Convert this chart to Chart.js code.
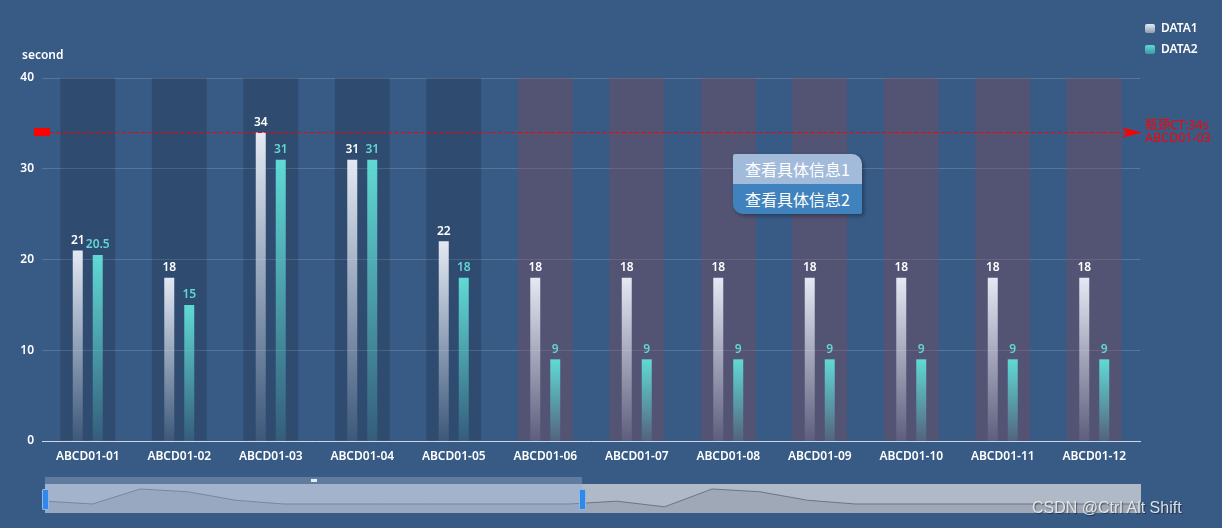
<!DOCTYPE html>
<html><head><meta charset="utf-8">
<script src="https://cdn.jsdelivr.net/npm/chart.js@4.4.0/dist/chart.umd.min.js"></script>
<style>
html,body{margin:0;padding:0;background:#385b86;}
#wrap{position:relative;width:1222px;height:528px;overflow:hidden;background:#385b86;font-family:'Noto Sans','Noto Sans CJK SC',sans-serif;}
#bg,#main{position:absolute;left:0;top:0;}
.abs{position:absolute;}
#ytitle{left:22px;top:46px;color:#fff;font-size:12px;font-weight:600;}
.leg{position:absolute;left:1145px;color:#fff;font-size:12px;line-height:14px;font-weight:600;}
.leg i{display:inline-block;width:10px;height:9px;border-radius:2px;vertical-align:-1px;margin-right:6px;}
#tip{left:733px;top:154px;width:129px;height:60px;border-radius:2px 10px 2px 10px;overflow:hidden;box-shadow:2px 2px 4px rgba(0,0,0,0.35);font-family:'Noto Sans CJK SC',sans-serif;}
#tip div{height:30px;line-height:30px;color:#fff;font-size:16px;padding-left:12px;}
#miniBox{left:45px;top:484px;width:1096px;height:29px;background:#b0b9c6;}
#mini{position:absolute;left:0;top:0;}
#sel{left:45px;top:484px;width:537px;height:29px;background:rgba(140,170,215,0.35);}
#selTop{left:45px;top:477px;width:537px;height:7px;background:#5f7b9d;}
.handle{top:489px;width:5px;height:19px;background:#2f88ea;border:1px solid #8fb7ea;border-radius:1px;}
#grip{left:311px;top:479px;width:6px;height:3px;background:#e8eef5;}
#wm{left:1032px;top:499px;color:rgba(235,238,242,0.9);font-family:'Liberation Sans',Arial,sans-serif;font-size:16px;text-shadow:1px 1px 1px rgba(0,0,0,0.45);}
</style></head><body>
<div id="wrap">
<canvas id="bg" width="1222" height="528"></canvas>
<canvas id="main" width="1222" height="528"></canvas>
<div id="ytitle" class="abs">second</div>
<div class="leg" style="top:21px"><i style="background:linear-gradient(#e6ebf3,#8d9cb3)"></i>DATA1</div>
<div class="leg" style="top:42px"><i style="background:linear-gradient(#62d8d3,#3a9aa5)"></i>DATA2</div>
<div id="tip" class="abs"><div style="background:#a2bbdb">查看具体信息1</div><div style="background:#3f82be">查看具体信息2</div></div>
<div id="miniBox" class="abs"><canvas id="mini" width="1096" height="29"></canvas></div>
<div id="selTop" class="abs"></div>
<div id="grip" class="abs"></div>
<div id="sel" class="abs"></div>
<div class="abs handle" style="left:42px"></div>
<div class="abs handle" style="left:579px"></div>
<div id="wm" class="abs">CSDN @Ctrl Alt Shift</div>
</div>
<script>
const categories = ['ABCD01-01','ABCD01-02','ABCD01-03','ABCD01-04','ABCD01-05','ABCD01-06','ABCD01-07','ABCD01-08','ABCD01-09','ABCD01-10','ABCD01-11','ABCD01-12'];
const data1 = [21,18,34,31,22,18,18,18,18,18,18,18];
const data2 = [20.5,15,31,31,18,9,9,9,9,9,9,9];
const bandValues = [40,40,40,40,40,40,40,40,40,40,40,40];
const bandKinds = ['a','a','a','a','a','b','b','b','b','b','b','b'];
const yTicks = [0,10,20,30,40];
const markValue = 34;
const markLabel = ['瓶颈CT:34s','ABCD01-03'];
const zoomShadow = [21,18,34,31,22,18,18,18,18,18,18,18,21,15,34,31,22,18,18,18,18,18,18,18];

const FONT = "'Noto Sans','Noto Sans CJK SC',sans-serif";
Chart.defaults.font.family = FONT;

function grad(top, bottom){
  return (ctx)=>{
    const chart = ctx.chart;
    if(!chart.chartArea || ctx.type!=='data') return top;
    const y = chart.scales.y;
    const y0 = y.getPixelForValue(ctx.raw), y1 = y.getPixelForValue(0);
    const g = chart.ctx.createLinearGradient(0,y0,0,y1);
    g.addColorStop(0,top); g.addColorStop(1,bottom);
    return g;
  };
}
const bandColor = {a:'rgba(0,0,0,0.16)', b:'rgba(140,68,80,0.33)'};

function scaleOpts(visible){
  return {
    x:{type:'category', offset:true, grid:{display:false, drawTicks:false},
       border:{display:visible,color:'#cfd6e0',width:1},
       ticks:{color:visible?'#ffffff':'rgba(0,0,0,0)', font:{size:12, weight:'600'}, padding:8, maxRotation:0, autoSkip:false},
       afterFit(s){s.height=30;}},
    y:{min:0, max:40, afterBuildTicks(s){s.ticks = yTicks.map(v=>({value:v}));},
       ticks:{color:visible?'#ffffff':'rgba(0,0,0,0)', padding:8, font:{size:12, weight:'600'}},
       grid:{display:visible, color:'rgba(255,255,255,0.16)', drawTicks:false}, border:{display:false},
       afterFit(s){s.width=42;}}
  };
}
const common = {
  responsive:false, animation:false, events:[],
  layout:{padding:{left:0,right:82,top:78,bottom:57}},
  plugins:{legend:{display:false}, tooltip:{enabled:false}}
};

const labelPlugin = {
  id:'barLabels',
  afterDatasetsDraw(chart){
    const c = chart.ctx;
    const cols = ['#ffffff','#62d6d2'];
    [0,1].forEach(di=>{
      const meta = chart.getDatasetMeta(di);
      const ds = chart.data.datasets[di];
      c.save();
      c.font = '600 12px '+FONT;
      c.fillStyle = cols[di];
      c.textAlign='center'; c.textBaseline='bottom';
      meta.data.forEach((el,i)=>{ c.fillText(String(ds.data[i]), el.x, el.y-4); });
      c.restore();
    });
  }
};
const markPlugin = {
  id:'markLine',
  afterDatasetsDraw(chart){
    const c = chart.ctx, area = chart.chartArea;
    const y = Math.round(chart.scales.y.getPixelForValue(markValue))+0.5;
    c.save();
    c.fillStyle='#ff0000'; c.strokeStyle='#ff0000';
    c.fillRect(34, y-4.5, 16, 8);
    c.lineWidth=1.2; c.setLineDash([4,2.5]);
    c.beginPath(); c.moveTo(50,y); c.lineTo(area.right-14,y); c.stroke();
    c.setLineDash([]);
    const tip = area.right+2;
    c.beginPath(); c.moveTo(tip,y); c.lineTo(tip-20,y-5); c.lineTo(tip-15,y); c.lineTo(tip-20,y+5); c.closePath(); c.fill();
    c.font='12.5px '+FONT; c.textAlign='left'; c.textBaseline='middle';
    c.fillText(markLabel[0], tip+3, y-7);
    c.fillText(markLabel[1], tip+3, y+5.5);
    c.restore();
  }
};

// background layer: axes, grid and category bands
new Chart(document.getElementById('bg'), {
  type:'bar',
  data:{labels:categories, datasets:[
    {label:'band', data:bandValues, backgroundColor:bandKinds.map(k=>bandColor[k]), barPercentage:0.6, categoryPercentage:1}
  ]},
  options:Object.assign({}, common, {scales:scaleOpts(true)})
});

// foreground layer: data bars, labels, mark line
new Chart(document.getElementById('main'), {
  type:'bar',
  data:{
    labels:categories,
    datasets:[
      {label:'DATA1', data:data1, backgroundColor:grad('rgba(228,233,243,1)','rgba(228,233,243,0.08)'), categoryPercentage:0.437, barPercentage:0.5},
      {label:'DATA2', data:data2, backgroundColor:grad('rgba(96,218,212,1)','rgba(96,218,212,0.12)'), categoryPercentage:0.437, barPercentage:0.5}
    ]
  },
  options:Object.assign({}, common, {scales:scaleOpts(false)}),
  plugins:[labelPlugin, markPlugin]
});

new Chart(document.getElementById('mini'), {
  type:'line',
  data:{labels:zoomShadow.map((_,i)=>String(i)), datasets:[{data:zoomShadow, borderColor:'#6b7486', borderWidth:1, backgroundColor:'#9fa8b6', fill:'start', pointRadius:0, tension:0}]},
  options:{responsive:false, animation:false, events:[],
    layout:{padding:0},
    plugins:{legend:{display:false}, tooltip:{enabled:false}},
    scales:{x:{display:false, offset:false}, y:{display:false, min:8.4, max:39.3}}}
});
</script>
</body></html>
